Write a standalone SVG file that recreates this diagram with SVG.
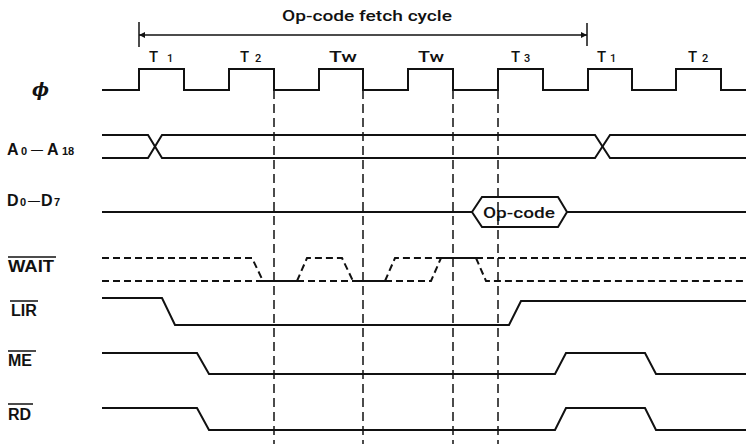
<svg xmlns="http://www.w3.org/2000/svg" width="746" height="444" viewBox="0 0 746 444">
<style>
.sig{fill:none;stroke:#111;stroke-width:2;stroke-linejoin:miter}
.dsh{fill:none;stroke:#111;stroke-width:2;stroke-dasharray:7 4}
.guide{fill:none;stroke:#111;stroke-width:1.5;stroke-dasharray:9 5}
.ov{stroke:#111;stroke-width:1.5}
.lbl{font-family:"Liberation Sans",Arial,sans-serif;font-weight:bold;font-size:16px;fill:#111}
.sub{font-size:11px}
.dash{font-size:12px;font-weight:normal}
.t{font-family:Roboto,"Liberation Sans",Arial,sans-serif;font-weight:500;font-size:15px;fill:#111}
.ts{font-size:11px}
</style>
<defs>
<marker id="ah" viewBox="0 0 10 10" refX="10" refY="5" markerWidth="9" markerHeight="6" markerUnits="userSpaceOnUse" orient="auto-start-reverse">
<path d="M0,0 L10,5 L0,10 Z" fill="#111"/>
</marker>
</defs>
<rect width="746" height="444" fill="#fff"/>

<g id="connectors">
<line class="guide" x1="274" y1="90" x2="274" y2="444"/>
<line class="guide" x1="363" y1="90" x2="363" y2="444"/>
<line class="guide" x1="453" y1="90" x2="453" y2="444"/>
<line class="guide" x1="498" y1="90" x2="498" y2="444"/>
<line x1="139" y1="22" x2="139" y2="47" stroke="#111" stroke-width="1.5"/>
<line x1="587" y1="23" x2="587" y2="46" stroke="#111" stroke-width="1.5"/>
<line x1="139" y1="35" x2="587" y2="35" stroke="#111" stroke-width="1.3" marker-start="url(#ah)" marker-end="url(#ah)"/>
</g>

<g id="cycle-label">
<text class="t" x="367" y="21" text-anchor="middle" font-size="17" textLength="170" lengthAdjust="spacingAndGlyphs">Op-code fetch cycle</text>
</g>

<g id="clock">
<text x="32" y="96" font-family="DejaVu Serif,serif" font-style="italic" font-weight="bold" font-size="18" fill="#111">ϕ</text>
<path class="sig" d="M102,90 H139 V69 H184 V90 H229 V69 H274 V90 H319 V69 H363 V90 H408 V69 H453 V90 H498 V69 H543 V90 H588 V69 H632 V90 H676 V69 H721 V90 H746"/>
<text class="t" y="62"><tspan x="149">T</tspan><tspan class="ts" x="167">1</tspan></text>
<text class="t" y="62"><tspan x="240">T</tspan><tspan class="ts" x="255">2</tspan></text>
<text class="t" x="343" y="62" text-anchor="middle" textLength="28" lengthAdjust="spacingAndGlyphs">Tw</text>
<text class="t" x="431" y="62" text-anchor="middle" textLength="26" lengthAdjust="spacingAndGlyphs">Tw</text>
<text class="t" y="62"><tspan x="511">T</tspan><tspan class="ts" x="524">3</tspan></text>
<text class="t" y="62"><tspan x="597">T</tspan><tspan class="ts" x="610">1</tspan></text>
<text class="t" y="62"><tspan x="688">T</tspan><tspan class="ts" x="702">2</tspan></text>
</g>

<g id="address">
<text class="lbl" y="155"><tspan x="7">A</tspan><tspan class="sub" x="21">0</tspan><tspan class="dash" x="31" dy="-1">—</tspan><tspan x="47" dy="1">A</tspan><tspan class="sub" x="62">18</tspan></text>
<path class="sig" d="M102,135 H148 L162,158 H595 L610,135 H746"/>
<path class="sig" d="M102,158 H148 L162,135 H595 L610,158 H746"/>
</g>

<g id="data">
<text class="lbl" y="206"><tspan x="7">D</tspan><tspan class="sub" x="20">0</tspan><tspan class="dash" x="28" dy="-1">—</tspan><tspan x="41" dy="1">D</tspan><tspan class="sub" x="54">7</tspan></text>
<path class="sig" d="M102,212 H472 M567,212 H746"/>
<path class="sig" d="M472,212 L482,197 H558 L567,212 L558,227 H482 Z"/>
<text class="t" x="519" y="218" text-anchor="middle" font-size="17" textLength="72" lengthAdjust="spacingAndGlyphs">Op-code</text>
</g>

<g id="wait">
<text class="lbl" x="8" y="272" textLength="46" lengthAdjust="spacingAndGlyphs">WAIT</text>
<line class="ov" x1="8" y1="257" x2="56" y2="257"/>
<path class="dsh" d="M102,258 H252 L263,281"/>
<path class="dsh" d="M102,281 H263"/>
<path class="sig" d="M263,281 H297"/>
<path class="dsh" d="M297,281 L307,258 H342 L353,281"/>
<path class="dsh" d="M297,281 H353"/>
<path class="sig" d="M353,281 H385"/>
<path class="dsh" d="M385,281 L395,258 H441"/>
<path class="dsh" d="M385,281 H431 L441,258"/>
<path class="sig" d="M441,258 H476"/>
<path class="dsh" d="M476,258 H746"/>
<path class="dsh" d="M476,258 L486,281 H746"/>
</g>

<g id="lir">
<text class="lbl" x="11" y="316">LIR</text>
<line class="ov" x1="10" y1="301" x2="38" y2="301"/>
<path class="sig" d="M102,298 H162 L175,325 H509 L521,301 H746"/>
</g>

<g id="me">
<text class="lbl" x="8" y="366">ME</text>
<line class="ov" x1="8" y1="351" x2="36" y2="351"/>
<path class="sig" d="M102,353 H197 L209,374 H555 L566,353 H645 L656,374 H746"/>
</g>

<g id="rd">
<text class="lbl" x="8" y="420">RD</text>
<line class="ov" x1="8" y1="404" x2="33" y2="404"/>
<path class="sig" d="M102,408 H197 L209,430 H555 L566,408 H645 L656,430 H746"/>
</g>
</svg>
